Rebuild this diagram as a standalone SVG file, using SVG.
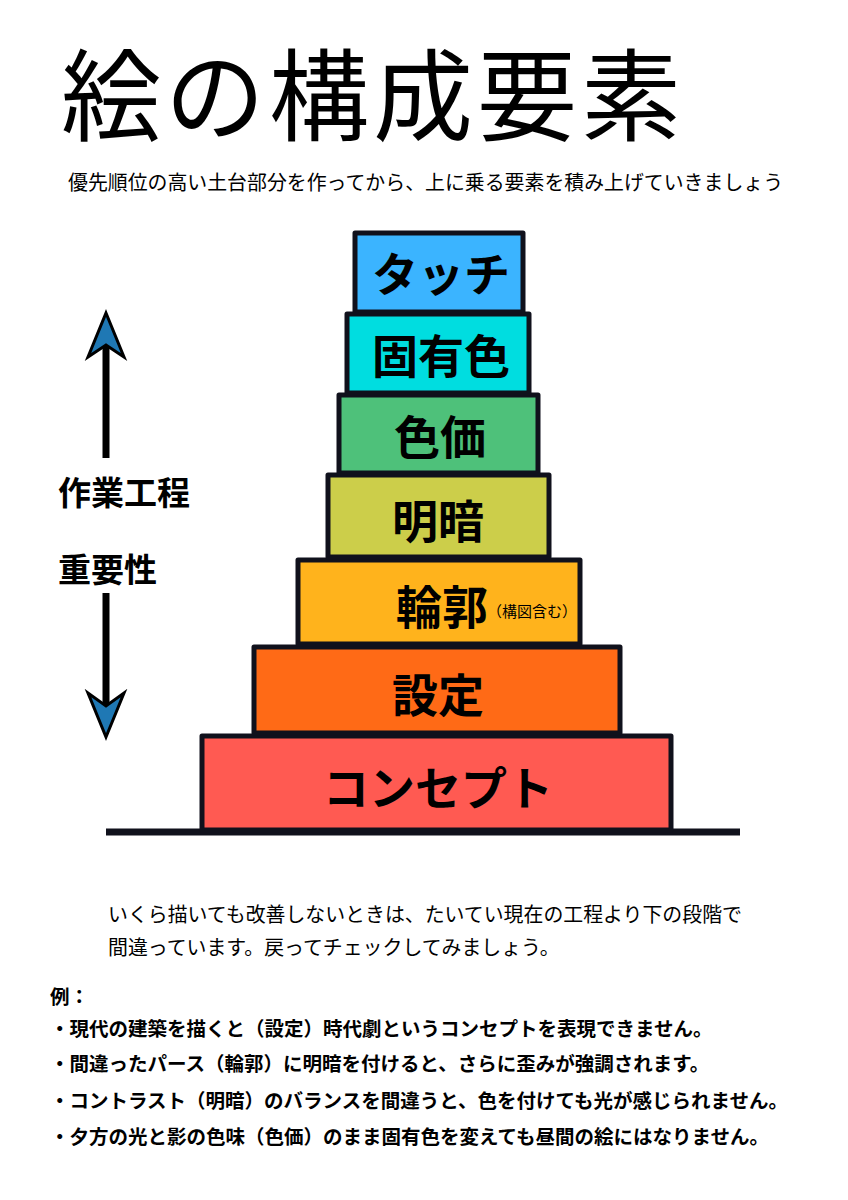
<svg xmlns="http://www.w3.org/2000/svg" width="848" height="1200" viewBox="0 0 848 1200">
<style>
.box{stroke:#10111c;stroke-width:5;stroke-linejoin:round}
.lbl{font-family:"Noto Sans CJK JP","Noto Sans",sans-serif;font-weight:700;font-size:46px;fill:#000;text-anchor:middle;dominant-baseline:central}
.jp{font-family:"Noto Sans CJK JP","Noto Sans",sans-serif;fill:#000}
.side{font-family:"Noto Sans CJK JP","Noto Sans",sans-serif;font-weight:700;font-size:33px;fill:#000}
.ex{font-family:"Noto Sans CJK JP","Noto Sans",sans-serif;font-weight:700;font-size:19.5px;fill:#000}
.shaft{stroke:#000;stroke-width:7}
.head{fill:#1f78b4;stroke:#000;stroke-width:3;stroke-linejoin:miter}
</style>
<rect width="848" height="1200" fill="#fff"/>
<text class="jp" x="61" y="133" font-size="100" font-weight="400" letter-spacing="4">絵の構成要素</text>
<text class="jp" x="68" y="190" font-size="19.9">優先順位の高い土台部分を作ってから、上に乗る要素を積み上げていきましょう</text>

<g id="connectors">
<line class="shaft" x1="106" y1="458" x2="106" y2="340"/>
<path class="head" d="M106 313 L124 357 L106 345 L88 357 Z"/>
<line class="shaft" x1="106" y1="593" x2="106" y2="712"/>
<path class="head" d="M106 737 L124 693 L106 706 L88 693 Z"/>
<line x1="106" y1="832" x2="740" y2="832" stroke="#10111c" stroke-width="7"/>
</g>

<g id="label-process"><text class="side" x="58" y="505">作業工程</text></g>
<g id="label-importance"><text class="side" x="58" y="582">重要性</text></g>

<g id="concept"><rect class="box" x="202" y="736" width="469" height="94" fill="#ff5a52"/><text class="lbl" x="438" y="785">コンセプト</text></g>
<g id="settei"><rect class="box" x="254" y="647" width="366" height="86" fill="#ff6a16"/><text class="lbl" x="438" y="692">設定</text></g>
<g id="rinkaku"><rect class="box" x="298" y="560" width="282" height="84" fill="#ffb31c"/><text class="lbl" x="442" y="604">輪郭</text><text class="jp" x="487" y="617" font-size="15">（構図含む）</text></g>
<g id="meian"><rect class="box" x="328" y="475" width="221" height="82" fill="#ccce4a"/><text class="lbl" x="438" y="518">明暗</text></g>
<g id="shikika"><rect class="box" x="339" y="395" width="199" height="78" fill="#4ec17a"/><text class="lbl" x="440" y="434">色価</text></g>
<g id="koyushoku"><rect class="box" x="347" y="314" width="182" height="79" fill="#00dde0"/><text class="lbl" x="441" y="353">固有色</text></g>
<g id="touch"><rect class="box" x="355" y="233" width="168" height="79" fill="#3bb4ff"/><text class="lbl" x="441" y="271">タッチ</text></g>

<text class="jp" x="108" y="922" font-size="19.9">いくら描いても改善しないときは、たいてい現在の工程より下の段階で</text>
<text class="jp" x="108" y="955" font-size="19.9">間違っています。戻ってチェックしてみましょう。</text>
<text class="ex" x="50" y="1004">例：</text>
<text class="ex" x="50" y="1036">・現代の建築を描くと（設定）時代劇というコンセプトを表現できません。</text>
<text class="ex" x="50" y="1071">・間違ったパース（輪郭）に明暗を付けると、さらに歪みが強調されます。</text>
<text class="ex" x="50" y="1108">・コントラスト（明暗）のバランスを間違うと、色を付けても光が感じられません。</text>
<text class="ex" x="50" y="1144">・夕方の光と影の色味（色価）のまま固有色を変えても昼間の絵にはなりません。</text>
</svg>
